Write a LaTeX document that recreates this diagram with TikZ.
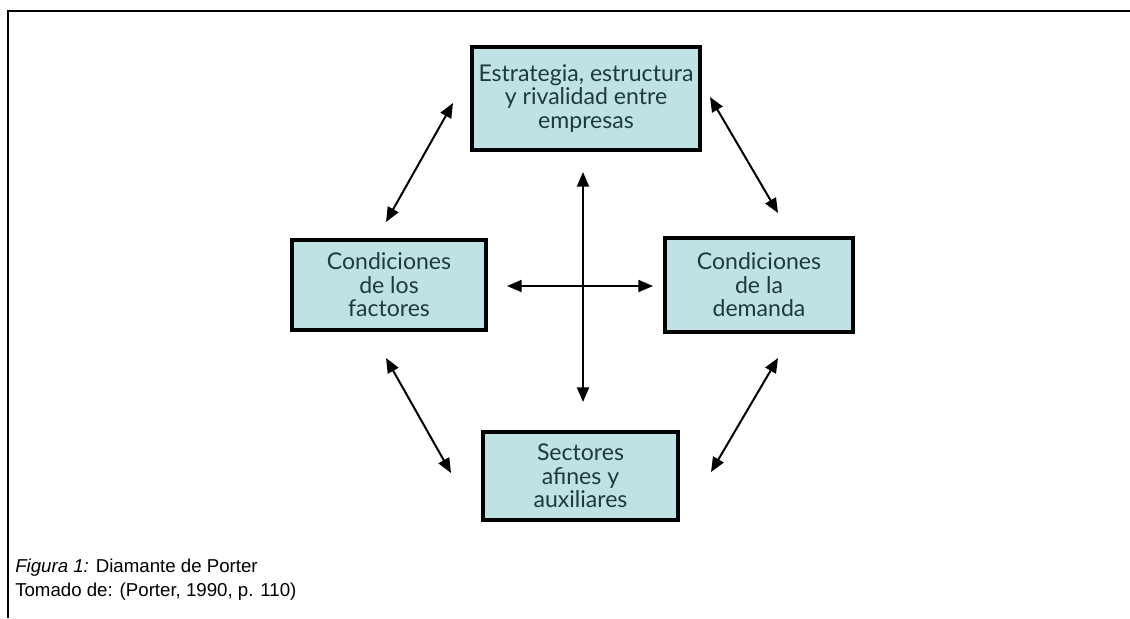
\documentclass[tikz,border=0pt]{standalone}
\usepackage{fontspec}
\setmainfont{Liberation Sans}
\newfontfamily\boxfont{Lato}
\usetikzlibrary{arrows.meta}
\definecolor{boxfill}{HTML}{BFE2E5}
\definecolor{boxtext}{HTML}{1F3A3E}
\tikzset{
	factor/.style={draw=black,line width=3pt,fill=boxfill,text=boxtext,align=center,
		font=\boxfont\fontsize{17.3}{17.6}\selectfont,inner sep=0pt},
	link/.style={line width=1.5pt,{Triangle[length=11pt,width=9pt]}-{Triangle[length=11pt,width=9pt]}}
}
\begin{document}
\begin{tikzpicture}[x=0.75pt,y=-0.75pt]
	\useasboundingbox (0,0) rectangle (1130,618);
	\draw[line width=1.7pt] (1130,11) -- (8,11) -- (8,618);
	% the four boxes
	\node[factor,minimum width=171pt,minimum height=77pt] (estr) at (586,98.5) {Estrategia, estructura\\y rivalidad entre\\empresas};
	\node[factor,minimum width=145.5pt,minimum height=67.5pt] (fact) at (389,285) {Condiciones\\de los\\factores};
	\node[factor,minimum width=141pt,minimum height=70.5pt] (dem) at (759,285) {Condiciones\\de la\\demanda};
	\node[factor,minimum width=146pt,minimum height=66pt] (sect) at (580.5,476) {Sectores\\afines y\\auxiliares};
	% arrow ends
	\coordinate (tl1) at (386,222); \coordinate (tl2) at (453,103);
	\coordinate (tr1) at (710,97); \coordinate (tr2) at (778,213);
	\coordinate (bl1) at (386,358); \coordinate (bl2) at (451,473);
	\coordinate (br1) at (711,472); \coordinate (br2) at (778,358);
	\coordinate (up) at (583,172); \coordinate (down) at (583,402);
	\coordinate (left) at (507,286); \coordinate (right) at (653,286);
	\draw[link] (tl1) -- (tl2);
	\draw[link] (tr1) -- (tr2);
	\draw[link] (bl1) -- (bl2);
	\draw[link] (br1) -- (br2);
	\draw[link] (up) -- (down);
	\draw[link] (left) -- (right);
	% caption
	\node[anchor=west,font=\fontsize{14}{18}\selectfont,align=left,inner sep=0pt] (cap) at (15,580) {\textit{Figura 1:} Diamante de Porter\\Tomado de: (Porter, 1990, p. 110)};
\end{tikzpicture}
\end{document}
